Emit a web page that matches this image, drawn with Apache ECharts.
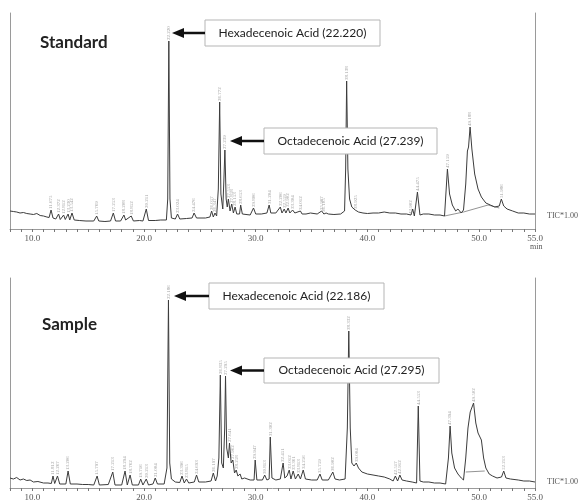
<!DOCTYPE html>
<html>
<head>
<meta charset="utf-8">
<script src="https://cdn.jsdelivr.net/npm/echarts@6/dist/echarts.min.js"></script>
<style>html,body{margin:0;padding:0;background:#fff}#c{width:584px;height:502px}</style>
</head>
<body>
<div id="c"></div>
<script>
// Standard chromatogram (retention time, min ; relative intensity)
var stdTimes = [8.0,8.3,8.6,8.9,9.2,9.5,9.8,10.1,10.4,10.7,11.0,11.3,11.5,11.675,11.85,12.1,12.35,12.5,12.8,12.95,13.2,13.35,13.55,13.75,14.2,14.8,15.5,15.76,15.95,16.5,17.0,17.25,17.45,17.9,18.2,18.35,18.5,18.85,19.05,19.6,19.9,20.2,20.4,21.0,21.5,22.0,22.12,22.22,22.32,22.45,22.8,23.0,23.2,23.8,24.3,24.48,24.7,25.5,25.9,26.05,26.2,26.35,26.5,26.65,26.772,26.88,27.05,27.15,27.239,27.35,27.45,27.55,27.7,27.85,28.0,28.15,28.3,28.55,28.65,28.8,29.5,29.8,30.0,30.5,31.0,31.2,31.35,31.8,32.2,32.35,32.55,32.7,32.9,33.05,33.3,33.5,34.0,34.15,34.5,34.9,35.5,35.9,36.1,36.3,36.5,37.0,37.6,37.95,38.05,38.138,38.25,38.4,38.6,38.9,39.2,39.6,40.0,40.5,41.0,41.5,42.0,42.5,43.0,43.5,43.9,44.05,44.2,44.475,44.7,45.0,45.5,46.0,46.5,46.9,47.159,47.35,47.6,47.9,48.1,48.4,48.6,48.8,48.95,49.05,49.188,49.35,49.6,49.9,50.2,50.6,51.0,51.4,51.8,51.986,52.2,52.5,53.0,53.5,54.0,54.5,55.0];
var stdValues = [18,17.5,17,16,16.5,15.5,15,14.5,15.5,13.5,13,12,11.5,19,11,10,15,9.5,14,9.5,15,9,16,9,8.5,8,8,13,8,7.5,8,16,8,8,14,9,8,13,8,8.5,8,20,8.5,8.5,9,9,30,188,30,11,10,15,10,10.5,11,16,11,11,12,18,12,16,13,40,127,35,20,50,79,30,22,30,18,25,16,22,15,15,24,15,14,21,15,15,16,24,16,16,22,16,20,16,21,16,19,16,18,15,15,16,15,18,15,16,15,14.5,15,18,60,148,60,30,22,19,17,16,15.5,16,16,17,16,16,15,15,14,20,13,37,14,15,15,14,14,13,60,35,24,18,20,16,19,45,78,82,102,80,55,40,32,26,24,22,23,30,23,20,18,16,16,15,15];
// integration baseline drawn under the late broad peak (standard)
var stdBaseTimes = [46.9,48.6,50.8,51.8];
var stdBaseValues = [13,17,24,21];
// peak retention-time tags (standard)
var stdTagTimes = [11.675,12.372,12.812,13.230,13.542,15.769,17.253,18.208,18.852,20.211,22.220,23.024,24.476,26.057,26.347,26.772,27.239,27.553,27.858,28.153,28.653,29.806,31.204,32.206,32.559,32.902,33.304,34.012,35.907,36.105,38.138,38.925,43.902,44.475,47.159,49.188,51.986];
var stdTagValues = [19,15,14,15,16,13,16,14,13,20,188,15,16,18,16,127,79,30,25,22,24,21,24,22,20,21,19,18,18,16,148,19,14,37,60,102,30];

// Sample chromatogram
var smpTimes = [8.0,8.3,8.6,8.9,9.2,9.5,9.8,10.1,10.5,11.0,11.4,11.7,11.85,12.0,12.25,12.45,13.0,13.2,13.4,14.0,14.5,15.0,15.5,15.8,16.0,16.8,17.2,17.4,18.0,18.3,18.5,18.75,18.95,19.5,19.7,19.9,20.2,20.4,20.8,21.0,21.2,21.8,22.05,22.186,22.3,22.45,22.8,23.2,23.4,23.6,23.8,24.0,24.5,24.7,24.9,25.5,26.0,26.2,26.4,26.55,26.7,26.83,26.95,27.1,27.22,27.295,27.4,27.55,27.65,27.8,27.95,28.1,28.25,28.4,28.6,28.75,29.0,29.5,29.85,29.95,30.1,30.6,30.8,31.0,31.2,31.3,31.45,31.8,32.2,32.45,32.6,32.8,33.0,33.15,33.35,33.55,33.8,34.0,34.25,34.45,35.0,35.5,35.75,35.95,36.5,36.9,37.1,37.5,38.0,38.2,38.33,38.46,38.6,38.8,39.0,39.2,39.5,40.0,40.5,41.0,41.5,42.0,42.3,42.5,42.7,42.9,43.1,43.5,44.0,44.4,44.55,44.7,45.0,45.5,46.0,46.5,47.0,47.25,47.4,47.55,47.8,48.1,48.4,48.6,48.8,49.0,49.2,49.3,49.5,49.7,49.9,50.2,50.4,50.6,50.9,51.2,51.6,52.0,52.2,52.4,52.8,53.5,54.0,54.5,55.0];
var smpValues = [10,9,10.5,8,9,7.5,8,6,6.5,5,5,4.5,12,4.5,12,4,4,17,4,4,3.5,3.5,3,12,3,3.5,16,3,3,17,3,13,3,3,9,3,9,3,4,10,4,4,20,188,25,9,6,5.5,12,5,9,5,6,13,6,6,7,15,7,12,30,113,25,20,60,112,40,30,45,25,28,15,18,12,14,9,10,8,8,28,8,8,13,8,9,51,10,8,9,25,10,12,18,9,17,9,14,9,18,9,8,8,14,8,8,16,9,8,9,60,157,60,25,22,25,20,16,14,13,12,11,9,7,12,7,13,8,7,6,5,82,7,6,6,5,5,4,30,62,35,20,14,10,8,30,60,76,74,85,65,55,48,30,20,14,12,10,11,17,10,9,8,7,7,6];
var smpBaseTimes = [48.8,50.5];
var smpBaseValues = [16,17];
var smpTagTimes = [11.812,12.267,13.206,15.797,17.213,18.294,18.762,19.716,20.213,21.004,22.186,23.396,23.815,24.693,26.197,26.835,27.295,27.641,27.962,28.258,29.947,30.813,31.302,32.451,33.012,33.361,33.813,34.256,35.759,36.902,38.332,39.004,42.517,42.912,44.553,47.394,49.502,52.213];
var smpTagValues = [12,12,17,12,16,17,13,9,9,10,188,12,9,13,15,113,112,45,28,18,28,13,51,25,18,17,14,18,14,16,157,25,12,13,82,62,85,17];

var xTickLabels = [10,20,30,40,50,55];

function pairs(t, v){ return t.map(function(x,i){ return [x, v[i]]; }); }

var chart = echarts.init(document.getElementById('c'), null, {renderer:'canvas'});

var axisGray = '#9a9a9a';
function xAxisFor(idx){
  return {
    type:'value', gridIndex: idx, min: 8, max: 55, interval: 1,
    axisLine:{show:true, lineStyle:{color:axisGray, width:1}},
    axisTick:{show:true, length:3, lineStyle:{color:'#777'}},
    splitLine:{show:false},
    axisLabel:{
      show:true, interval:0, margin:5, fontSize:9, color:'#555',
      fontFamily:'Liberation Serif',
      formatter:function(v){ return xTickLabels.indexOf(v) >= 0 ? v.toFixed(1) : ''; }
    }
  };
}
function yAxisFor(idx, max, pos){
  return {
    type:'value', gridIndex: idx, min:0, max:max, position:pos,
    axisLine:{show:true, lineStyle:{color:axisGray, width:1}},
    axisTick:{show:false}, axisLabel:{show:false}, splitLine:{show:false}
  };
}
function tagSeries(t, v, yIdx, xIdx){
  return {
    type:'scatter', xAxisIndex:xIdx, yAxisIndex:yIdx, symbolSize:0, silent:true,
    data: t.map(function(x,i){ return {value:[x, v[i]], name: x.toFixed(3)}; }),
    label:{show:true, position:'top', distance:1, rotate:90, align:'left', verticalAlign:'middle',
      fontSize:5, color:'#8a8a8a', fontFamily:'Liberation Serif',
      formatter:function(p){ return p.name; }},
    z:3
  };
}

function annotation(x, y, w, h, text, tipX){
  var cy = y + h/2;
  return [
    {type:'rect', shape:{x:x, y:y, width:w, height:h}, style:{fill:'#fff', stroke:'#b5b5b5', lineWidth:1}, z:10},
    {type:'text', x:x + w/2, y:cy, style:{text:text, fontSize:12, fontFamily:'Lato', fill:'#222', align:'center', verticalAlign:'middle'}, z:11},
    {type:'line', shape:{x1:x, y1:cy, x2:tipX + 8, y2:cy}, style:{stroke:'#111', lineWidth:2.5}, z:10},
    {type:'polygon', shape:{points:[[tipX, cy],[tipX + 12, cy - 5],[tipX + 12, cy + 5]]}, style:{fill:'#111'}, z:10}
  ];
}

var graphics = [];
graphics = graphics.concat(annotation(205, 20, 175, 26, 'Hexadecenoic Acid (22.220)', 172));
graphics = graphics.concat(annotation(264, 128, 173, 26, 'Octadecenoic Acid (27.239)', 230));
graphics = graphics.concat(annotation(209, 283, 175, 26, 'Hexadecenoic Acid (22.186)', 174));
graphics = graphics.concat(annotation(264, 358, 175, 25, 'Octadecenoic Acid (27.295)', 230));
graphics.push({type:'text', x:40, y:43, style:{text:'Standard', fontSize:17, fontWeight:'bold', fontFamily:'Lato', fill:'#222', verticalAlign:'middle'}});
graphics.push({type:'text', x:42, y:325, style:{text:'Sample', fontSize:17, fontWeight:'bold', fontFamily:'Lato', fill:'#222', verticalAlign:'middle'}});
graphics.push({type:'text', x:547, y:216, style:{text:'TIC*1.00', fontSize:8, fontFamily:'Liberation Serif', fill:'#555', verticalAlign:'middle'}});
graphics.push({type:'text', x:547, y:482, style:{text:'TIC*1.00', fontSize:8, fontFamily:'Liberation Serif', fill:'#555', verticalAlign:'middle'}});
graphics.push({type:'text', x:530, y:247, style:{text:'min', fontSize:8, fontFamily:'Liberation Serif', fill:'#555', verticalAlign:'middle'}});

var lineStyle = {color:'#3c3c3c', width:1};
chart.setOption({
  backgroundColor:'#fff',
  animation:false,
  grid:[
    {left:10, right:49, top:13, height:216},
    {left:10, right:49, top:278, height:210}
  ],
  xAxis:[xAxisFor(0), xAxisFor(1)],
  yAxis:[yAxisFor(0,216,'left'), yAxisFor(0,216,'right'), yAxisFor(1,210,'left'), yAxisFor(1,210,'right')],
  series:[
    {type:'line', xAxisIndex:0, yAxisIndex:0, data:pairs(stdTimes, stdValues), showSymbol:false, lineStyle:lineStyle, z:2},
    {type:'line', xAxisIndex:0, yAxisIndex:0, data:pairs(stdBaseTimes, stdBaseValues), showSymbol:false, lineStyle:{color:'#777', width:0.8}, z:1},
    tagSeries(stdTagTimes, stdTagValues, 0, 0),
    {type:'line', xAxisIndex:1, yAxisIndex:2, data:pairs(smpTimes, smpValues), showSymbol:false, lineStyle:lineStyle, z:2},
    {type:'line', xAxisIndex:1, yAxisIndex:2, data:pairs(smpBaseTimes, smpBaseValues), showSymbol:false, lineStyle:{color:'#777', width:0.8}, z:1},
    tagSeries(smpTagTimes, smpTagValues, 2, 1)
  ],
  graphic: graphics
});
</script>
</body>
</html>
